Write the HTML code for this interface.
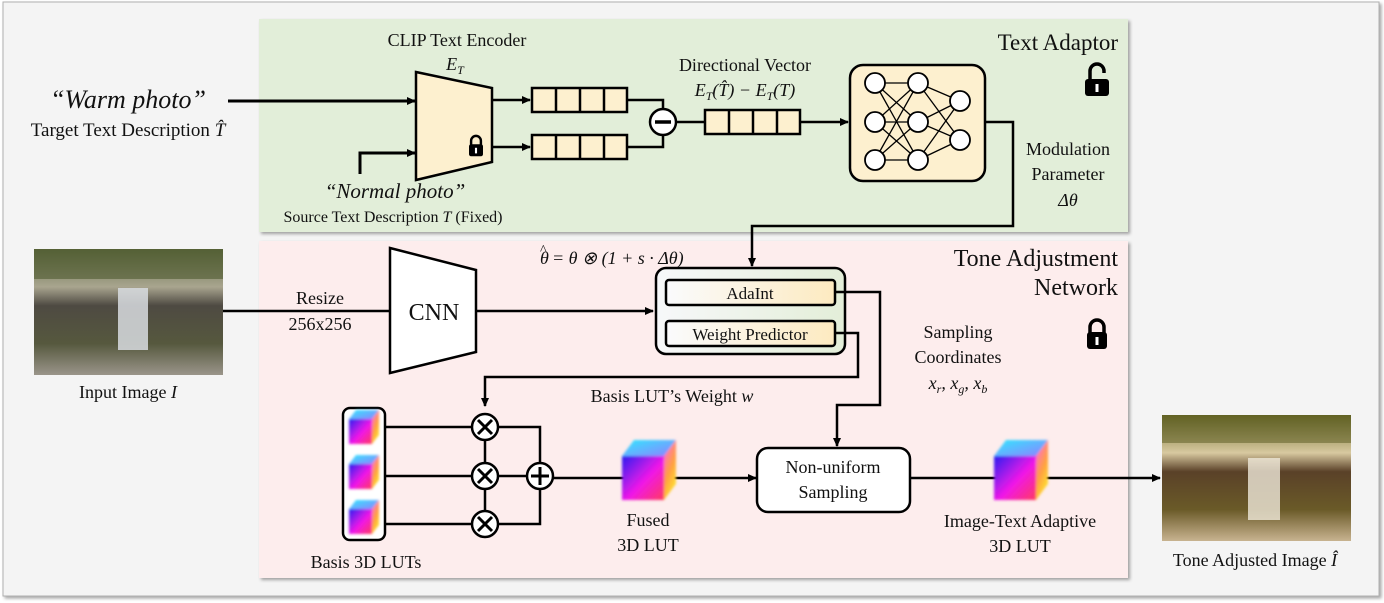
<!DOCTYPE html>
<html><head><meta charset="utf-8"><style>
html,body{margin:0;padding:0;background:#fff;}
svg{display:block;}
text{font-family:"Liberation Serif",serif;fill:#111;}
.it{font-style:italic;}
</style></head><body>
<svg width="1384" height="603" viewBox="0 0 1384 603" xmlns="http://www.w3.org/2000/svg">
<defs>
<marker id="ar" markerWidth="10" markerHeight="10" refX="8" refY="5" orient="auto" markerUnits="userSpaceOnUse"><path d="M0,1 L9,5 L0,9 z" fill="#000"/></marker>
<linearGradient id="front" x1="0" y1="0" x2="1" y2="1"><stop offset="0" stop-color="#2a20f0"/><stop offset="0.55" stop-color="#f018e8"/><stop offset="1" stop-color="#ff3a60"/></linearGradient>
<linearGradient id="top" x1="0" y1="0" x2="1" y2="1"><stop offset="0" stop-color="#30e8ff"/><stop offset="1" stop-color="#9080ff"/></linearGradient>
<linearGradient id="side" x1="0" y1="0" x2="0.5" y2="1"><stop offset="0" stop-color="#ff60f0"/><stop offset="0.6" stop-color="#ffa040"/><stop offset="1" stop-color="#ffe030"/></linearGradient>
<linearGradient id="inner" x1="0" y1="0" x2="1" y2="0"><stop offset="0" stop-color="#fafbfd"/><stop offset="1" stop-color="#fdeac0"/></linearGradient>
<linearGradient id="cont" x1="0" y1="0" x2="1" y2="0"><stop offset="0" stop-color="#f7f8fa"/><stop offset="1" stop-color="#e3eed8"/></linearGradient>
<linearGradient id="img1" x1="0" y1="0" x2="0" y2="1"><stop offset="0" stop-color="#5e6a3e"/><stop offset="0.3" stop-color="#a9a58f"/><stop offset="0.45" stop-color="#4e4a42"/><stop offset="0.75" stop-color="#56583e"/><stop offset="1" stop-color="#9a958a"/></linearGradient>
<linearGradient id="img2" x1="0" y1="0" x2="0" y2="1"><stop offset="0" stop-color="#6a6a28"/><stop offset="0.3" stop-color="#d8c9a0"/><stop offset="0.45" stop-color="#5a4128"/><stop offset="0.75" stop-color="#6a5a28"/><stop offset="1" stop-color="#c8b390"/></linearGradient>
<filter id="sh" x="-5%" y="-5%" width="110%" height="110%"><feDropShadow dx="2" dy="2" stdDeviation="1.5" flood-color="#000" flood-opacity="0.35"/></filter>
<filter id="bl"><feGaussianBlur stdDeviation="1.2"/></filter>
<g id="lock"><path d="M-7,0 v-6 a7,7 0 0 1 14,0 v6" fill="none" stroke="#000" stroke-width="3.5"/><rect x="-10" y="-1" width="20" height="17" rx="3" fill="#000"/><rect x="-1.5" y="4" width="3" height="8" fill="#fff"/></g>
<g id="cubeg" filter="url(#bl)">
<polygon points="-26,-14 -14,-30 28,-30 16,-14" fill="url(#top)"/>
<polygon points="16,-14 28,-30 28,14 16,30" fill="url(#side)"/>
<rect x="-26" y="-14" width="42" height="44" fill="url(#front)"/>
</g>
<g id="scube" filter="url(#bl)">
<polygon points="-14,-8 -7,-17 16,-17 9,-8" fill="url(#top)"/>
<polygon points="9,-8 16,-17 16,8 9,17" fill="url(#side)"/>
<rect x="-14" y="-8" width="23" height="25" fill="url(#front)"/>
</g>
</defs>
<rect x="3" y="2" width="1376" height="594" fill="#f4f4f4" stroke="#b0b0b0" stroke-width="1" filter="url(#sh)"/>
<rect x="259" y="19" width="869" height="213" fill="#e2eed9" filter="url(#sh)"/>
<rect x="259" y="241" width="869" height="337" fill="#fdeded" filter="url(#sh)"/>

<text x="128" y="108" font-size="26" text-anchor="middle" class="it">“Warm photo”</text>
<text x="128" y="136" font-size="19" text-anchor="middle">Target Text Description <tspan class="it">T̂</tspan></text>
<line x1="228" y1="101" x2="415" y2="101" stroke="#000" stroke-width="3" marker-end="url(#ar)"/>
<polyline points="360,174 360,153 415,153" fill="none" stroke="#000" stroke-width="3" marker-end="url(#ar)"/>
<text x="395" y="198" font-size="21" text-anchor="middle" class="it">“Normal photo”</text>
<text x="393" y="222" font-size="16" text-anchor="middle">Source Text Description <tspan class="it">T</tspan> (Fixed)</text>
<text x="457" y="46" font-size="18" text-anchor="middle">CLIP Text Encoder</text>
<text x="455" y="70" font-size="18" text-anchor="middle" class="it">E<tspan font-size="12" dy="4">T</tspan></text>
<polygon points="416,72 492,88 492,162 416,180" fill="#fdf0cf" stroke="#000" stroke-width="2.5"/>
<g transform="translate(476 145) scale(0.7)"><use href="#lock"/></g>
<line x1="492" y1="100" x2="530" y2="100" stroke="#000" stroke-width="2.5" marker-end="url(#ar)"/>
<line x1="492" y1="147" x2="530" y2="147" stroke="#000" stroke-width="2.5" marker-end="url(#ar)"/>
<g fill="#fdf0cf" stroke="#000" stroke-width="2.5">
<rect x="532" y="88" width="95" height="24"/><rect x="532" y="135" width="95" height="24"/>
<rect x="705" y="110" width="95" height="24"/>
</g>
<g stroke="#000" stroke-width="2.5">
<line x1="556" y1="88" x2="556" y2="112"/><line x1="580" y1="88" x2="580" y2="112"/><line x1="604" y1="88" x2="604" y2="112"/>
<line x1="556" y1="135" x2="556" y2="159"/><line x1="580" y1="135" x2="580" y2="159"/><line x1="604" y1="135" x2="604" y2="159"/>
<line x1="729" y1="110" x2="729" y2="134"/><line x1="753" y1="110" x2="753" y2="134"/><line x1="777" y1="110" x2="777" y2="134"/>
</g>
<polyline points="627,100 663,100 663,109" fill="none" stroke="#000" stroke-width="2.5"/>
<polyline points="627,147 663,147 663,135" fill="none" stroke="#000" stroke-width="2.5"/>
<circle cx="663" cy="122" r="13" fill="#fff" stroke="#000" stroke-width="2.5"/>
<line x1="655" y1="122" x2="671" y2="122" stroke="#000" stroke-width="3.5"/>
<line x1="676" y1="122" x2="705" y2="122" stroke="#000" stroke-width="2.5"/>
<line x1="800" y1="122" x2="848" y2="122" stroke="#000" stroke-width="2.5" marker-end="url(#ar)"/>
<text x="745" y="71" font-size="18" text-anchor="middle">Directional Vector</text>
<text x="745" y="96" font-size="18" text-anchor="middle" class="it">E<tspan font-size="12" dy="4">T</tspan><tspan dy="-4">(T̂) − E</tspan><tspan font-size="12" dy="4">T</tspan><tspan dy="-4">(T)</tspan></text>
<rect x="850" y="65" width="135" height="116" rx="13" fill="#fdf0cf" stroke="#000" stroke-width="2.5"/>
<g stroke="#000" stroke-width="1.3">
<line x1="875" y1="83" x2="918" y2="83"/><line x1="875" y1="83" x2="918" y2="122"/><line x1="875" y1="83" x2="918" y2="160"/>
<line x1="875" y1="122" x2="918" y2="83"/><line x1="875" y1="122" x2="918" y2="122"/><line x1="875" y1="122" x2="918" y2="160"/>
<line x1="875" y1="160" x2="918" y2="83"/><line x1="875" y1="160" x2="918" y2="122"/><line x1="875" y1="160" x2="918" y2="160"/>
<line x1="918" y1="83" x2="960" y2="101"/><line x1="918" y1="83" x2="960" y2="140"/>
<line x1="918" y1="122" x2="960" y2="101"/><line x1="918" y1="122" x2="960" y2="140"/>
<line x1="918" y1="160" x2="960" y2="101"/><line x1="918" y1="160" x2="960" y2="140"/>
</g>
<g fill="#fff" stroke="#000" stroke-width="1.8">
<circle cx="875" cy="83" r="10"/><circle cx="875" cy="122" r="10"/><circle cx="875" cy="160" r="10"/>
<circle cx="918" cy="83" r="10"/><circle cx="918" cy="122" r="10"/><circle cx="918" cy="160" r="10"/>
<circle cx="960" cy="101" r="10"/><circle cx="960" cy="140" r="10"/>
</g>
<text x="1118" y="50" font-size="23" text-anchor="end">Text Adaptor</text>
<g transform="translate(1097 80)"><path d="M-7,0 v-9 a7,7 0 0 1 14,0 v2" fill="none" stroke="#000" stroke-width="3.5"/><rect x="-12" y="-1" width="24" height="17" rx="3" fill="#000"/><rect x="-1.5" y="4" width="3" height="8" fill="#fff"/></g>
<text x="1068" y="155" font-size="18" text-anchor="middle">Modulation</text>
<text x="1068" y="180" font-size="18" text-anchor="middle">Parameter</text>
<text x="1068" y="206" font-size="18" text-anchor="middle" class="it">Δθ</text>
<polyline points="985,122 1013,122 1013,226 752,226 752,266" fill="none" stroke="#000" stroke-width="2.5" marker-end="url(#ar)"/>

<text x="540" y="264" font-size="18" class="it">θ</text>
<text x="540" y="254" font-size="14">^</text>
<text x="552" y="264" font-size="18" class="it">= θ ⊗ (1 + s · Δθ)</text>
<text x="1118" y="266" font-size="24" text-anchor="end">Tone Adjustment</text>
<text x="1118" y="295" font-size="24" text-anchor="end">Network</text>
<use href="#lock" x="1097" y="333"/>
<rect x="34" y="249" width="189" height="126" fill="url(#img1)"/>
<rect x="34" y="249" width="189" height="30" fill="#4f5a30" opacity="0.6"/>
<rect x="118" y="288" width="30" height="62" fill="#d8dce0" opacity="0.85"/>
<text x="128" y="398" font-size="18" text-anchor="middle">Input Image <tspan class="it">I</tspan></text>
<line x1="223" y1="311" x2="390" y2="311" stroke="#000" stroke-width="2.5"/>
<text x="320" y="304" font-size="18" text-anchor="middle">Resize</text>
<text x="320" y="330" font-size="18" text-anchor="middle">256x256</text>
<polygon points="390,248 476,270 476,352 390,373" fill="#fff" stroke="#000" stroke-width="2.5"/>
<text x="434" y="320" font-size="24" text-anchor="middle">CNN</text>
<line x1="476" y1="311" x2="653" y2="311" stroke="#000" stroke-width="2.5" marker-end="url(#ar)"/>
<rect x="656" y="268" width="189" height="86" rx="10" fill="url(#cont)" stroke="#000" stroke-width="2.5"/>
<rect x="666" y="280" width="169" height="25" rx="3" fill="url(#inner)" stroke="#000" stroke-width="2.5"/>
<rect x="666" y="321" width="169" height="25" rx="3" fill="url(#inner)" stroke="#000" stroke-width="2.5"/>
<text x="750" y="299" font-size="17" text-anchor="middle">AdaInt</text>
<text x="750" y="340" font-size="17" text-anchor="middle">Weight  Predictor</text>
<polyline points="835,292 880,292 880,405 837,405 837,446" fill="none" stroke="#000" stroke-width="2.5" marker-end="url(#ar)"/>
<polyline points="835,333 858,333 858,377 485,377 485,406" fill="none" stroke="#000" stroke-width="2.5" marker-end="url(#ar)"/>
<text x="672" y="402" font-size="18" text-anchor="middle">Basis LUT’s Weight <tspan class="it">w</tspan></text>
<text x="958" y="338" font-size="18" text-anchor="middle">Sampling</text>
<text x="958" y="363" font-size="18" text-anchor="middle">Coordinates</text>
<text x="958" y="389" font-size="18" text-anchor="middle" class="it">x<tspan font-size="12" dy="4">r</tspan><tspan dy="-4">, x</tspan><tspan font-size="12" dy="4">g</tspan><tspan dy="-4">, x</tspan><tspan font-size="12" dy="4">b</tspan></text>
<rect x="343" y="408" width="42" height="132" rx="7" fill="#fff" stroke="#000" stroke-width="2.5"/>
<use href="#scube" x="363" y="427"/><use href="#scube" x="363" y="472"/><use href="#scube" x="363" y="517"/>
<g stroke="#000" stroke-width="2.5" fill="none">
<line x1="385" y1="427" x2="472" y2="427"/><line x1="385" y1="476" x2="472" y2="476"/><line x1="385" y1="524" x2="472" y2="524"/>
<line x1="485" y1="440" x2="485" y2="463"/><line x1="485" y1="489" x2="485" y2="511"/>
<polyline points="498,427 540,427 540,524 498,524"/><line x1="498" y1="476" x2="527" y2="476"/>
</g>
<g fill="#fff" stroke="#000" stroke-width="2.5">
<circle cx="485" cy="427" r="13"/><circle cx="485" cy="476" r="13"/><circle cx="485" cy="524" r="13"/><circle cx="540" cy="476" r="13"/>
</g>
<g stroke="#000" stroke-width="3">
<path d="M478,420 L492,434 M492,420 L478,434"/><path d="M478,469 L492,483 M492,469 L478,483"/><path d="M478,517 L492,531 M492,517 L478,531"/>
<path d="M531,476 H549 M540,467 V485"/>
</g>
<line x1="553" y1="478" x2="756" y2="478" stroke="#000" stroke-width="2.5" marker-end="url(#ar)"/>
<use href="#cubeg" x="648" y="470"/>
<text x="648" y="526" font-size="18" text-anchor="middle">Fused</text>
<text x="648" y="551" font-size="18" text-anchor="middle">3D LUT</text>
<text x="366" y="568" font-size="18" text-anchor="middle">Basis  3D LUTs</text>
<rect x="757" y="448" width="153" height="64" rx="11" fill="#fff" stroke="#000" stroke-width="2.5"/>
<text x="833" y="473" font-size="18" text-anchor="middle">Non-uniform</text>
<text x="833" y="498" font-size="18" text-anchor="middle">Sampling</text>
<line x1="910" y1="478" x2="1160" y2="478" stroke="#000" stroke-width="2.5" marker-end="url(#ar)"/>
<use href="#cubeg" x="1020" y="470"/>
<text x="1020" y="527" font-size="18" text-anchor="middle">Image-Text  Adaptive</text>
<text x="1020" y="552" font-size="18" text-anchor="middle">3D LUT</text>
<rect x="1162" y="415" width="189" height="126" fill="url(#img2)"/>
<rect x="1162" y="415" width="189" height="28" fill="#5a5a20" opacity="0.5"/>
<rect x="1248" y="458" width="32" height="62" fill="#efe8da" opacity="0.8"/>
<text x="1255" y="566" font-size="18" text-anchor="middle">Tone Adjusted  Image  <tspan class="it">Î</tspan></text>
</svg>
</body></html>
